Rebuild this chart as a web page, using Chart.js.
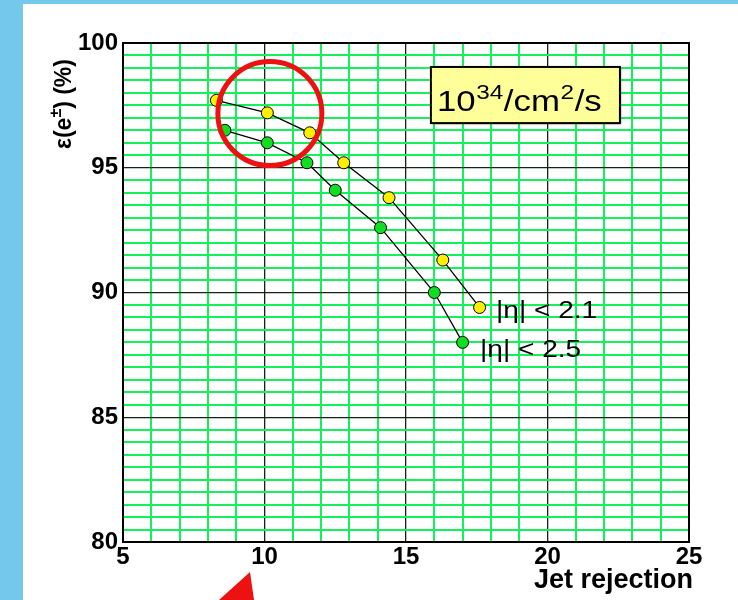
<!DOCTYPE html>
<html>
<head>
<meta charset="utf-8">
<script src="https://cdn.jsdelivr.net/npm/chart.js@4/dist/chart.umd.min.js"></script>
<style>
  html, body { margin: 0; padding: 0; background: #fff; }
  canvas { display: block; }
</style>
</head>
<body>
<canvas id="effChart" width="738" height="600"></canvas>
<script>
// jet rejection (x) and electron efficiency in % (y)
const jetRej21 = [8.3, 10.1, 11.6, 12.8, 14.4, 16.3, 17.6];
const eff21 = [97.7, 97.2, 96.4, 95.2, 93.8, 91.3, 89.4];
const jetRej25 = [8.6, 10.1, 11.5, 12.5, 14.1, 16.0, 17.0];
const eff25 = [96.5, 96.0, 95.2, 94.1, 92.6, 90.0, 88.0];
const seriesLabels = ['|η| < 2.1', '|η| < 2.5'];
const xTicks = [5, 10, 15, 20, 25];
const yTicks = [80, 85, 90, 95, 100];

const FONT = '"Liberation Sans", Arial, sans-serif';
const GREEN = '#14f25a';
const DARK = '#142414';

function toPoints(xs, ys) {
    return xs.map((x, i) => ({x: x, y: ys[i]}));
}

function isMajor(ctx, list) {
    return ctx.tick && list.includes(ctx.tick.value);
}

// draws pieces of text one after another, [text, size, raise]
function drawRun(c, parts, x, y, stretch) {
    c.save();
    c.translate(x, y);
    c.scale(stretch, 1);
    let pos = 0;
    parts.forEach(p => {
        c.font = p[1] + 'px ' + FONT;
        c.fillText(p[0], pos, -p[2]);
        pos += c.measureText(p[0]).width + 0.5;
    });
    c.restore();
}

const overlay = {
    id: 'overlay',
    beforeDraw(chart) {
        const c = chart.ctx;
        c.save();
        c.fillStyle = '#fff';
        c.fillRect(0, 0, chart.width, chart.height);
        c.fillStyle = '#73c8ec';
        c.fillRect(0, 0, 23, chart.height);
        c.fillRect(0, 0, chart.width, 4);
        c.restore();
    },
    beforeDatasetsDraw(chart) {
        const c = chart.ctx;
        const a = chart.chartArea;
        c.save();
        c.strokeStyle = '#000';
        c.lineWidth = 2;
        c.strokeRect(a.left, a.top, a.right - a.left, a.bottom - a.top);
        c.restore();
    },
    afterDatasetsDraw(chart) {
        const c = chart.ctx;
        const xs = chart.scales.x, ys = chart.scales.y;
        c.save();
        c.fillStyle = '#000';
        c.textAlign = 'left';
        c.textBaseline = 'alphabetic';

        // curve labels
        drawRun(c, [[seriesLabels[0], 23, 0]], 496, 318, 1.22);
        drawRun(c, [[seriesLabels[1], 23, 0]], 480, 357, 1.22);

        // luminosity box
        const bx = xs.getPixelForValue(15.88), by = ys.getPixelForValue(99.04);
        const bw = xs.getPixelForValue(22.56) - bx, bh = ys.getPixelForValue(96.79) - by;
        c.save();
        c.shadowColor = 'rgba(0,0,0,0.45)';
        c.shadowBlur = 2;
        c.shadowOffsetX = 1;
        c.shadowOffsetY = 1;
        c.fillStyle = '#ffff99';
        c.fillRect(bx, by, bw, bh);
        c.restore();
        c.strokeStyle = '#000';
        c.lineWidth = 2;
        c.strokeRect(bx, by, bw, bh);
        c.fillStyle = '#000';
        drawRun(c, [['10', 30, 0], ['34', 21, 12], ['/cm', 30, 0], ['2', 21, 12], ['/s', 30, 0]],
            bx + 6, by + 44, 1.16);

        // red circle
        c.strokeStyle = '#ee1111';
        c.lineWidth = 5;
        c.beginPath();
        c.arc(xs.getPixelForValue(10.19), ys.getPixelForValue(97.17), 52, 0, Math.PI * 2);
        c.stroke();

        // red arrow head
        c.fillStyle = '#ee1111';
        c.beginPath();
        c.moveTo(250, 572);
        c.lineTo(254, 600);
        c.lineTo(219, 600);
        c.closePath();
        c.fill();

        // axis titles
        c.fillStyle = '#000';
        c.font = 'bold 27px ' + FONT;
        c.textAlign = 'right';
        c.textBaseline = 'middle';
        c.fillText('Jet rejection', 693, 581);

        c.translate(63, 104);
        c.rotate(-Math.PI / 2);
        c.textAlign = 'left';
        c.textBaseline = 'alphabetic';
        c.font = 'bold 23px ' + FONT;
        const p1 = 'ε(e', p3 = ') (%)';
        const w1 = c.measureText(p1).width, w3 = c.measureText(p3).width;
        c.font = 'bold 16px ' + FONT;
        const w2 = c.measureText('±').width;
        let x0 = -(w1 + w2 + w3) / 2;
        c.font = 'bold 23px ' + FONT;
        c.fillText(p1, x0, 8);
        c.font = 'bold 16px ' + FONT;
        c.fillText('±', x0 + w1, -2);
        c.font = 'bold 23px ' + FONT;
        c.fillText(p3, x0 + w1 + w2, 8);
        c.restore();
    }
};

new Chart(document.getElementById('effChart'), {
    type: 'scatter',
    data: {
        datasets: [
            {
                label: seriesLabels[0],
                data: toPoints(jetRej21, eff21),
                showLine: true,
                borderColor: '#000',
                borderWidth: 1.3,
                pointBackgroundColor: '#ffee00',
                pointBorderColor: '#000',
                pointBorderWidth: 1,
                pointRadius: 6
            },
            {
                label: seriesLabels[1],
                data: toPoints(jetRej25, eff25),
                showLine: true,
                borderColor: '#000',
                borderWidth: 1.3,
                pointBackgroundColor: '#11dd22',
                pointBorderColor: '#000',
                pointBorderWidth: 1,
                pointRadius: 6
            }
        ]
    },
    options: {
        responsive: false,
        animation: false,
        layout: {padding: {left: 0, top: 43, right: 49, bottom: 0}},
        plugins: {legend: {display: false}, tooltip: {enabled: false}},
        scales: {
            x: {
                type: 'linear',
                min: 5,
                max: 25,
                ticks: {
                    stepSize: 1,
                    autoSkip: false,
                    maxRotation: 0,
                    padding: 1,
                    color: '#000',
                    font: {family: FONT, size: 24, weight: 'bold'},
                    callback: v => xTicks.includes(v) ? String(v) : ''
                },
                grid: {
                    drawTicks: false,
                    color: ctx => isMajor(ctx, xTicks) ? DARK : GREEN,
                    lineWidth: ctx => isMajor(ctx, xTicks) ? 1.3 : 2
                },
                border: {display: true, color: '#000', width: 2},
                afterFit(s) { s.height = 58; }
            },
            y: {
                type: 'linear',
                min: 80,
                max: 100,
                ticks: {
                    stepSize: 0.5,
                    autoSkip: false,
                    padding: 5,
                    color: '#000',
                    font: {family: FONT, size: 24, weight: 'bold'},
                    callback: v => yTicks.includes(v) ? String(v) : ''
                },
                grid: {
                    drawTicks: false,
                    color: ctx => isMajor(ctx, yTicks) ? DARK : GREEN,
                    lineWidth: ctx => isMajor(ctx, yTicks) ? 1.3 : 2
                },
                border: {display: true, color: '#000', width: 2},
                afterFit(s) { s.width = 123; }
            }
        }
    },
    plugins: [overlay]
});
</script>
</body>
</html>
